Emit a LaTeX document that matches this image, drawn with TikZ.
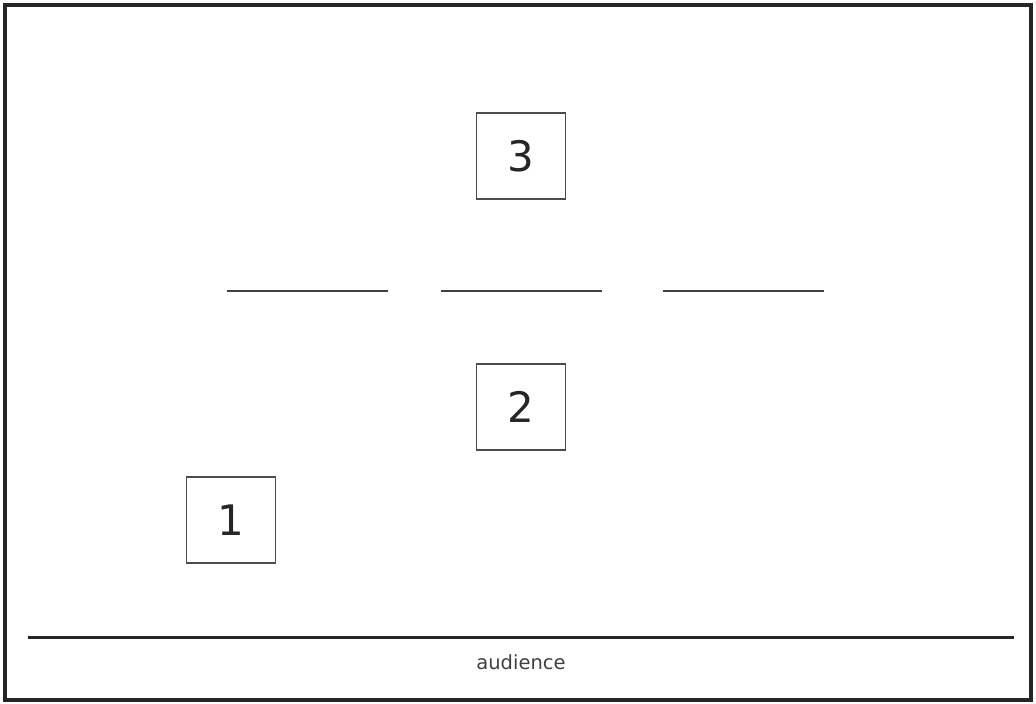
\documentclass[tikz,border=0pt]{standalone}
\usepackage{fontspec}
\setmainfont{DejaVu Sans}
\begin{document}
\begin{tikzpicture}[x=1pt,y=-1pt,
  numbox/.style={draw=black!70, line width=1.6pt, minimum width=89pt, minimum height=86pt, inner sep=0pt, font=\fontsize{42}{42}\selectfont, text=black!85},
  bar/.style={line width=2.8pt, draw=black!75},
  lbl/.style={font=\fontsize{19.5}{19.5}\selectfont, text=black!75, inner sep=0pt}]
\useasboundingbox (0,0) rectangle (1036,704);
\draw[line width=3.8pt, draw=black!85] (5,5) rectangle (1031,700);
\node[numbox] (b3) at (521,156) {3};
\node[numbox] (b2) at (521,407) {2};
\node[numbox] (b1) at (231,520) {1};
\coordinate (l1a) at (227,291); \coordinate (l1b) at (388,291);
\coordinate (l2a) at (441,291); \coordinate (l2b) at (602,291);
\coordinate (l3a) at (663,291); \coordinate (l3b) at (824,291);
\draw[bar] (l1a) -- (l1b);
\draw[bar] (l2a) -- (l2b);
\draw[bar] (l3a) -- (l3b);
\coordinate (aa) at (28,637.5); \coordinate (ab) at (1014,637.5);
\draw[line width=3.2pt, draw=black!85] (aa) -- (ab);
\node[lbl] (aud) at (521,662) {audience};
\end{tikzpicture}
\end{document}
